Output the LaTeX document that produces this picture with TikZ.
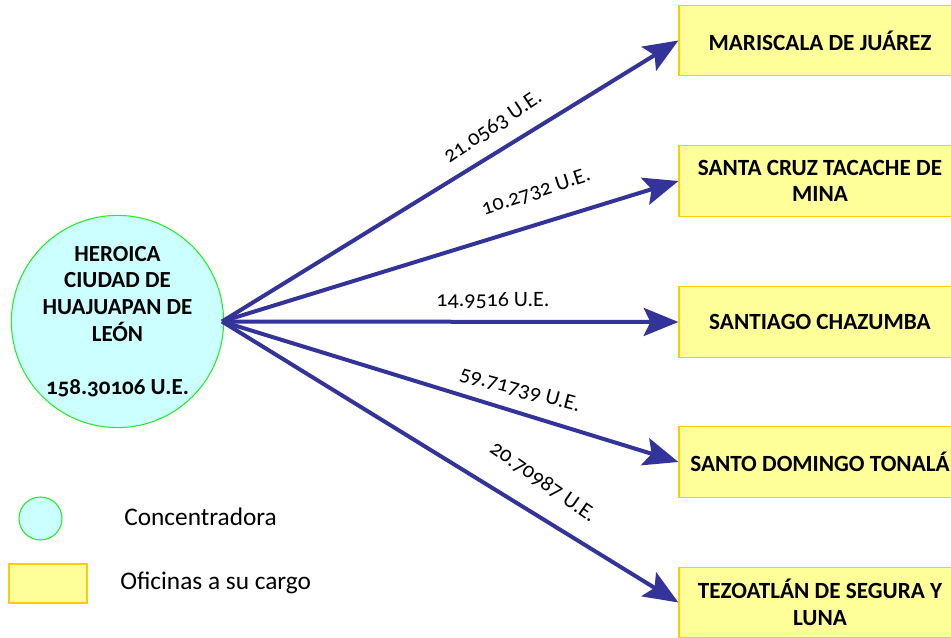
\documentclass[tikz,border=0pt]{standalone}
\usepackage{fontspec}
\setmainfont{Carlito}[Numbers=OldStyle]
\usetikzlibrary{arrows.meta}
\definecolor{arrowblue}{HTML}{333399}
\definecolor{circfill}{HTML}{CCFFFF}
\definecolor{circline}{HTML}{22EE22}
\definecolor{boxfill}{HTML}{FFFF99}
\definecolor{boxline}{HTML}{FFCC00}
\tikzset{
  office/.style={draw=boxline, line width=0.9pt, fill=boxfill, minimum width=211.5pt, minimum height=53pt,
    inner sep=0pt, align=center, font=\fontsize{17.4}{20}\selectfont\bfseries},
  hub/.style={circle, draw=circline, line width=0.8pt, fill=circfill, minimum size=157.5pt, inner sep=0pt,
    align=center, font=\fontsize{17.25}{20}\selectfont\bfseries},
  link/.style={draw=arrowblue, line width=3pt, -{Stealth[length=26pt, width=21pt, inset=5pt]}},
  amount/.style={inner sep=0pt, font=\fontsize{16.5}{18}\selectfont},
  legendtext/.style={inner sep=0pt, anchor=west, font=\fontsize{19}{22}\selectfont},
}
\begin{document}
\begin{tikzpicture}[x=0.75pt, y=-0.75pt]
\useasboundingbox (0,0) rectangle (951,638);

\node[hub] (c) at (117.5,321.5) {HEROICA\\CIUDAD DE\\HUAJUAPAN DE\\LEÓN\\[20pt]158.30106 U.E.};

\node[office] (b1) at (820,40.5) {MARISCALA DE JUÁREZ};
\node[office] (b2) at (820,181) {SANTA CRUZ TACACHE DE\\MINA};
\node[office] (b3) at (820,322) {SANTIAGO CHAZUMBA};
\node[office] (b4) at (820,462) {SANTO DOMINGO TONALÁ};
\node[office] (b5) at (820,602.5) {TEZOATLÁN DE SEGURA Y\\LUNA};

\coordinate (o) at (222,321.5);
\draw[link] (o) -- (b1.west);
\draw[link] (o) -- (b2.west);
\draw[link] (o) -- (b3.west);
\draw[link] (o) -- (b4.west);
\draw[link] (o) -- (b5.west);

\node[amount, rotate=34] (l1) at (493,127) {21.0563 U.E.};
\node[amount, rotate=18] (l2) at (536,192) {10.2732 U.E.};
\node[amount] (l3) at (493,301) {14.9516 U.E.};
\node[amount, rotate=-15] (l4) at (520,390) {59.71739 U.E.};
\node[amount, rotate=-35] (l5) at (543,482) {20.70987 U.E.};

\node[circle, draw=circline, line width=0.8pt, fill=circfill, minimum size=32.25pt, inner sep=0pt] (lc) at (40.5,518.5) {};
\node[draw=boxline, line width=0.9pt, fill=boxfill, minimum width=58.5pt, minimum height=29.25pt, inner sep=0pt] (lr) at (48,583.5) {};
\node[legendtext] (t1) at (124,517) {Concentradora};
\node[legendtext] (t2) at (120,583) {Oficinas a su cargo};
\end{tikzpicture}
\end{document}
